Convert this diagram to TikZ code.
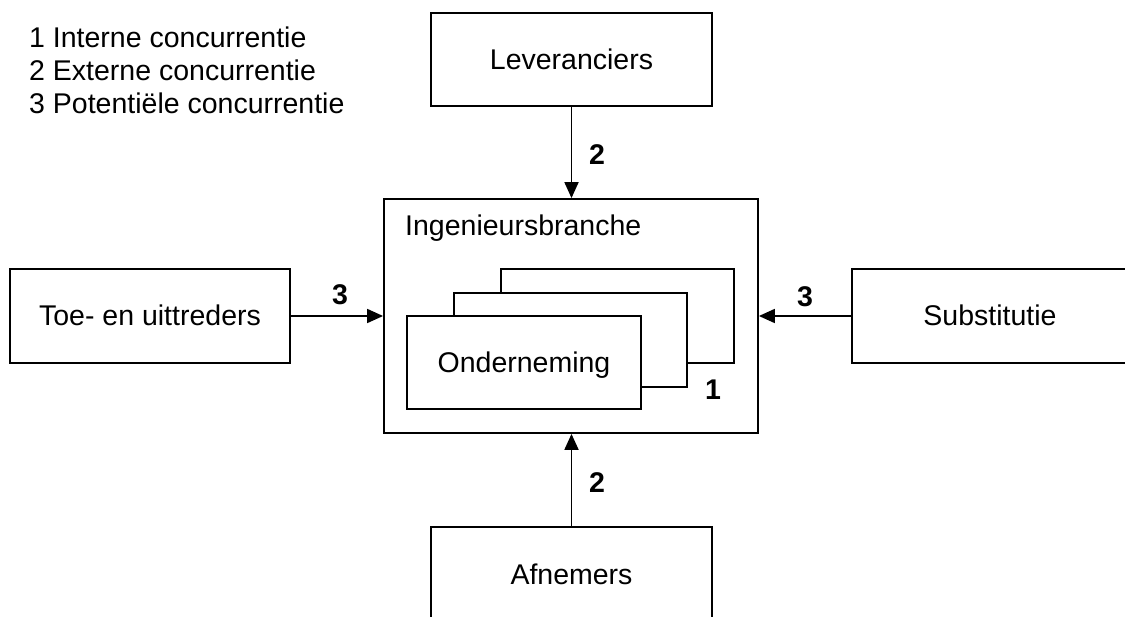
\documentclass[tikz,border=0pt]{standalone}
\usepackage{fontspec}
\setmainfont{Liberation Sans}
\usetikzlibrary{arrows.meta}
\begin{document}
\begin{tikzpicture}[x=1pt,y=-1pt,
  every node/.style={font=\fontsize{28.5}{33}\selectfont},
  box/.style={draw, line width=1.8pt, fill=white, inner sep=0pt, text depth=0pt, text height=20pt},
  lab/.style={font=\fontsize{28.5}{33}\selectfont\bfseries, inner sep=0pt},
  arr/.style={line width=1.8pt, -{Triangle[length=16pt,width=14pt]}},
  legend/.style={anchor=base west, inner sep=0pt}]
\path[use as bounding box, clip] (0,0) rectangle (1125,617);
% legend
\node[legend] (l1) at (29,48) {1 Interne concurrentie};
\node[legend] (l2) at (29,81) {2 Externe concurrentie};
\node[legend] (l3) at (29,114) {3 Potentiële concurrentie};
% outer boxes
\node[box, minimum width=281pt, minimum height=93pt] (lev) at (571.5,59.5) {Leveranciers};
\node[box, minimum width=280pt, minimum height=94pt] (toe) at (150,316) {Toe- en uittreders};
\node[box, minimum width=276pt, minimum height=94pt] (sub) at (990,316) {Substitutie};
\node[box, minimum width=281pt, minimum height=95pt] (afn) at (571.5,574.5) {Afnemers};
% central box
\node[box, minimum width=374pt, minimum height=234pt] (ind) at (571,316) {};
\node[anchor=base west, inner sep=0pt] (indl) at (405,236) {Ingenieursbranche};
% stacked company boxes
\node[box, minimum width=233pt, minimum height=94pt] (c3) at (617.5,316) {};
\node[box, minimum width=233pt, minimum height=94pt] (c2) at (570.5,340) {};
\node[box, minimum width=234pt, minimum height=93pt] (c1) at (524,362.5) {Onderneming};
\node[lab] (n1) at (713,390) {1};
% arrows
\draw[arr] (lev.south) -- (lev.south |- ind.north);
\draw[arr] (afn.north) -- (afn.north |- ind.south);
\draw[arr] (toe.east) -- (ind.west);
\draw[arr] (sub.west) -- (ind.east);
% arrow labels
\node[lab] (t2) at (597,155) {2};
\node[lab] (b2) at (597,483) {2};
\node[lab] (w3) at (340,295) {3};
\node[lab] (e3) at (805,297) {3};
\end{tikzpicture}
\end{document}
